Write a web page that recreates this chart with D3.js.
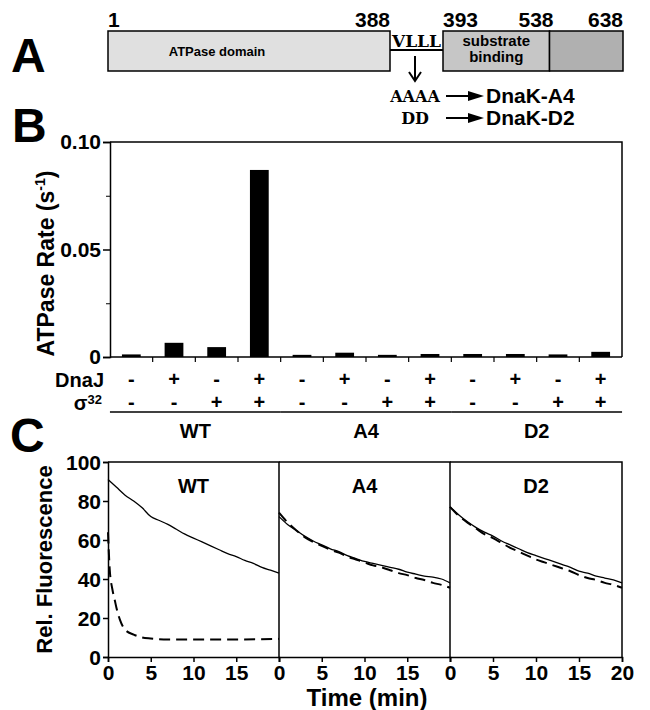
<!DOCTYPE html>
<html>
<head>
<meta charset="utf-8">
<script src="https://cdn.jsdelivr.net/npm/d3@7"></script>
<style>
  body { margin: 0; background: #fff; }
  text { font-family: "Liberation Sans", Arial, sans-serif; font-weight: bold; fill: #000; }
  .seq { font-family: "DejaVu Serif", "Liberation Serif", serif; font-weight: bold; }
</style>
</head>
<body>
<div id="chart-container"></div>
<script>
// Panel A: domain map (residue numbers)
const residueMarks = [1, 388, 393, 538, 638];
const domains = [
    { from: 1, to: 388, fill: "#e0e0e0" },
    { from: 393, to: 538, fill: "#c6c6c6" },
    { from: 538, to: 638, fill: "#b0b0b0" }
];

// Panel B: ATPase rates (s^-1)
const variants = ["WT", "A4", "D2"];
const dnaJ = ["-", "+", "-", "+", "-", "+", "-", "+", "-", "+", "-", "+"];
const sigma32 = ["-", "-", "+", "+", "-", "-", "+", "+", "-", "-", "+", "+"];
const rates = [0.0012, 0.0066, 0.0046, 0.087, 0.0010, 0.0020, 0.0010, 0.0014, 0.0014, 0.0014, 0.0012, 0.0024];
const rateTicks = [0, 0.05, 0.10];

// Panel C: relative fluorescence vs time (min)
const times = [0, 1, 2, 3, 4, 5, 6, 7, 8, 9, 10, 11, 12, 13, 14, 15, 16, 17, 18, 19, 20];
const wtSolid = [91, 87, 83, 80, 76.5, 72, 70, 68, 65.5, 63, 61, 59, 57, 55, 53, 51.5, 49.5, 48, 46, 44.5, 43];
const wtDashedT = [0, 0.2, 0.5, 0.8, 1, 1.4, 2, 3, 4, 5, 7, 10, 15, 20];
const wtDashed = [64, 45, 35, 29, 25, 19, 14, 11.5, 10, 9.5, 9, 9, 9, 9.3];
const a4Solid = [72, 68, 65, 62, 59.5, 57.5, 55.5, 54, 52, 50.5, 49, 48, 47, 46, 45, 43.5, 42.5, 41.5, 41, 40, 38];
const a4Dashed = [74, 69, 65, 61.5, 59, 57, 55, 53.5, 51.5, 50, 48.5, 47, 46, 44.5, 43, 42, 40.5, 39.5, 38, 37, 35.5];
const d2Solid = [77, 73, 69.5, 66.5, 64, 62, 59.5, 57.5, 55.5, 53.5, 52, 50.5, 49, 47.5, 46, 44, 43, 41.5, 40.5, 39.5, 38];
const d2Dashed = [77, 72.5, 69, 66, 63, 61, 58.5, 56, 54, 52, 50, 48.5, 47, 45.5, 44, 42, 40.5, 39.5, 38, 37, 35.5];
const fluorTicks = [0, 20, 40, 60, 80, 100];
const timeTicks = [0, 5, 10, 15, 20];

const W = 650, H = 710;
const svg = d3.select("#chart-container")
    .append("svg")
    .attr("width", W)
    .attr("height", H);

// ---------- Panel A ----------
const gA = svg.append("g");
gA.append("text").attr("x", 11).attr("y", 72).style("font-size", "48px").text("A");

const resX = d3.scaleLinear().domain([1, 388, 393, 638]).range([108, 390, 443, 623]);
const boxTop = 31, boxBot = 71;

gA.selectAll("rect.dom")
    .data(domains)
    .enter().append("rect")
    .attr("class", "dom")
    .attr("x", d => resX(d.from))
    .attr("y", boxTop)
    .attr("width", d => resX(d.to) - resX(d.from))
    .attr("height", boxBot - boxTop)
    .attr("fill", d => d.fill)
    .attr("stroke", "#000")
    .attr("stroke-width", 1.5);

gA.append("text").attr("x", 217).attr("y", 56)
    .attr("text-anchor", "middle").style("font-size", "13px").text("ATPase domain");
gA.append("text").attr("x", (resX(393) + resX(538)) / 2).attr("y", 46)
    .attr("text-anchor", "middle").style("font-size", "15px").text("substrate");
gA.append("text").attr("x", (resX(393) + resX(538)) / 2).attr("y", 62)
    .attr("text-anchor", "middle").style("font-size", "15px").text("binding");

// residue numbers
const anchorFor = ["start", "end", "start", "end", "end"];
const offFor = [0, 0, 0, 4, 0];
gA.selectAll("text.res")
    .data(residueMarks)
    .enter().append("text")
    .attr("class", "res")
    .attr("x", (d, i) => resX(d) + offFor[i])
    .attr("y", 27)
    .attr("text-anchor", (d, i) => anchorFor[i])
    .style("font-size", "21px")
    .text(d => d);

// linker
gA.append("line").attr("x1", resX(388)).attr("x2", resX(393)).attr("y1", 50).attr("y2", 50)
    .attr("stroke", "#000").attr("stroke-width", 2);
gA.append("text").attr("class", "seq").attr("x", (resX(388) + resX(393)) / 2).attr("y", 47)
    .attr("text-anchor", "middle").style("font-size", "17px").text("VLLL");
const arrowX = 415;
gA.append("line").attr("x1", arrowX).attr("x2", arrowX).attr("y1", 56).attr("y2", 80)
    .attr("stroke", "#000").attr("stroke-width", 2);
gA.append("path").attr("d", `M${arrowX - 6},72 L${arrowX},81 L${arrowX + 6},72`)
    .attr("fill", "none").attr("stroke", "#000").attr("stroke-width", 2);

const mutRows = [
    { seq: "AAAA", name: "DnaK-A4", y: 103 },
    { seq: "DD", name: "DnaK-D2", y: 125 }
];
mutRows.forEach(r => {
    gA.append("text").attr("class", "seq").attr("x", 415).attr("y", r.y - 1)
        .attr("text-anchor", "middle").style("font-size", "16px").text(r.seq);
    gA.append("line").attr("x1", 446).attr("x2", 472).attr("y1", r.y - 7).attr("y2", r.y - 7)
        .attr("stroke", "#000").attr("stroke-width", 2);
    gA.append("path").attr("d", `M468,${r.y - 12} L484,${r.y - 7} L468,${r.y - 2} Z`).attr("fill", "#000");
    gA.append("text").attr("x", 486).attr("y", r.y).style("font-size", "21px").text(r.name);
});

// ---------- Panel B ----------
const gB = svg.append("g");
gB.append("text").attr("x", 12).attr("y", 142).style("font-size", "48px").text("B");

const bx0 = 110, bx1 = 622, by0 = 357, by1 = 142;
const xB = d3.scaleBand().domain(d3.range(rates.length)).range([bx0, bx1]).paddingInner(0.56).paddingOuter(0.28);
const yB = d3.scaleLinear().domain([0, 0.1]).range([by0, by1]);

gB.selectAll("rect.bar")
    .data(rates)
    .enter().append("rect")
    .attr("class", "bar")
    .attr("x", (d, i) => xB(i))
    .attr("y", d => yB(d))
    .attr("width", xB.bandwidth())
    .attr("height", d => yB(0) - yB(d))
    .attr("fill", "#000");

// frame
gB.append("path")
    .attr("d", `M${bx0},${by1} L${bx1},${by1} L${bx1},${by0}`)
    .attr("fill", "none").attr("stroke", "#000").attr("stroke-width", 1.5);

const yAxisB = d3.axisLeft(yB).tickValues(rateTicks).tickSize(7)
    .tickFormat(d => d === 0 ? "0" : d3.format(".2f")(d));
const gYB = gB.append("g").attr("transform", `translate(${bx0},0)`).call(yAxisB);
gYB.select(".domain").attr("stroke-width", 1.5);
gYB.selectAll("text").style("font-size", "21px").attr("x", -9).attr("dy", "0.33em");
gYB.selectAll("line").attr("stroke-width", 1.5);
gB.append("g").attr("transform", `translate(${bx0},0)`)
    .call(d3.axisLeft(yB).tickValues([0.025, 0.075]).tickSize(4).tickFormat(""))
    .call(g => g.select(".domain").remove());

// x axis with ticks at band boundaries
const step = xB.step();
const xBoundaries = d3.range(1, rates.length).map(i => xB(i) - (step - xB.bandwidth()) / 2);
gB.append("line").attr("x1", bx0).attr("x2", bx1).attr("y1", by0).attr("y2", by0)
    .attr("stroke", "#000").attr("stroke-width", 1.5);
gB.selectAll("line.xt")
    .data(xBoundaries)
    .enter().append("line")
    .attr("class", "xt")
    .attr("x1", d => d).attr("x2", d => d)
    .attr("y1", by0).attr("y2", by0 + 5)
    .attr("stroke", "#000").attr("stroke-width", 1.2);

gB.append("text")
    .attr("transform", `translate(54,${(by0 + by1) / 2 + 14}) rotate(-90)`)
    .attr("text-anchor", "middle")
    .style("font-size", "23px")
    .html('ATPase Rate (s<tspan dy="-9" font-size="14px">-1</tspan><tspan dy="9">)</tspan>');

// condition rows
const rowJ = 387, rowS = 410;
gB.append("text").attr("x", 104).attr("y", rowJ).attr("text-anchor", "end").style("font-size", "20px").text("DnaJ");
gB.append("text").attr("x", 102).attr("y", rowS).attr("text-anchor", "end").style("font-size", "20px")
    .html('σ<tspan dy="-6" font-size="13px">32</tspan>');
gB.selectAll("text.dj")
    .data(dnaJ).enter().append("text").attr("class", "dj")
    .attr("x", (d, i) => xB(i) + xB.bandwidth() / 2).attr("y", rowJ - 1)
    .attr("text-anchor", "middle").style("font-size", "20px").text(d => d);
gB.selectAll("text.sg")
    .data(sigma32).enter().append("text").attr("class", "sg")
    .attr("x", (d, i) => xB(i) + xB.bandwidth() / 2).attr("y", rowS - 1)
    .attr("text-anchor", "middle").style("font-size", "20px").text(d => d);

variants.forEach((v, k) => {
    const xa = xB(k * 4) - 12, xb = xB(k * 4 + 3) + xB.bandwidth() + 12;
    gB.append("line").attr("x1", xa).attr("x2", xb).attr("y1", 412).attr("y2", 412)
        .attr("stroke", "#000").attr("stroke-width", 1.5);
    gB.append("text").attr("x", (xa + xb) / 2).attr("y", 438).attr("text-anchor", "middle")
        .style("font-size", "20px").text(v);
});

// ---------- Panel C ----------
const gC = svg.append("g");
gC.append("text").attr("x", 10).attr("y", 452).style("font-size", "48px").text("C");

const cy0 = 657, cy1 = 462;
const panelEdges = [108, 279, 450, 622];
const yC = d3.scaleLinear().domain([0, 100]).range([cy0, cy1]);
const series = [
    { name: "WT", solid: wtSolid, dashT: wtDashedT, dashed: wtDashed },
    { name: "A4", solid: a4Solid, dashT: times, dashed: a4Dashed },
    { name: "D2", solid: d2Solid, dashT: times, dashed: d2Dashed }
];

series.forEach((s, k) => {
    const xC = d3.scaleLinear().domain([0, 20]).range([panelEdges[k], panelEdges[k + 1]]);
    const g = gC.append("g");

    g.append("path")
        .attr("d", d3.line().curve(d3.curveMonotoneX).x((d, i) => xC(times[i])).y(d => yC(d))(s.solid))
        .attr("fill", "none").attr("stroke", "#000").attr("stroke-width", 1.3);
    g.append("path")
        .attr("d", d3.line().curve(d3.curveMonotoneX).x((d, i) => xC(s.dashT[i])).y(d => yC(d))(s.dashed))
        .attr("fill", "none").attr("stroke", "#000").attr("stroke-width", 2)
        .attr("stroke-dasharray", "11,6");

    const ticks = k === 2 ? timeTicks : timeTicks.slice(0, 4);
    const gx = g.append("g").attr("transform", `translate(0,${cy0})`)
        .call(d3.axisBottom(xC).tickValues(ticks).tickSize(5).tickFormat(d3.format("d")));
    gx.select(".domain").attr("stroke-width", 1.5);
    gx.selectAll("line").attr("stroke-width", 1.5);
    gx.selectAll("text").style("font-size", "21px").attr("y", 23).attr("dy", 0);

    g.append("text").attr("x", (panelEdges[k] + panelEdges[k + 1]) / 2).attr("y", 493)
        .attr("text-anchor", "middle").style("font-size", "20px").text(s.name);

    // panel border (top and right)
    g.append("path")
        .attr("d", `M${panelEdges[k]},${cy1} L${panelEdges[k + 1]},${cy1} L${panelEdges[k + 1]},${cy0}`)
        .attr("fill", "none").attr("stroke", "#000").attr("stroke-width", 1.5);
});

const gYC = gC.append("g").attr("transform", `translate(${panelEdges[0]},0)`)
    .call(d3.axisLeft(yC).tickValues(fluorTicks).tickSize(5));
gYC.select(".domain").attr("stroke-width", 1.5);
gYC.selectAll("line").attr("stroke-width", 1.5);
gYC.selectAll("text").style("font-size", "21px").attr("x", -7).attr("dy", "0.36em");

gC.append("text")
    .attr("transform", `translate(52,${(cy0 + cy1) / 2}) rotate(-90)`)
    .attr("text-anchor", "middle").style("font-size", "22px").text("Rel. Fluorescence");
gC.append("text").attr("x", 367).attr("y", 706).attr("text-anchor", "middle")
    .style("font-size", "24px").text("Time (min)");
</script>
</body>
</html>
